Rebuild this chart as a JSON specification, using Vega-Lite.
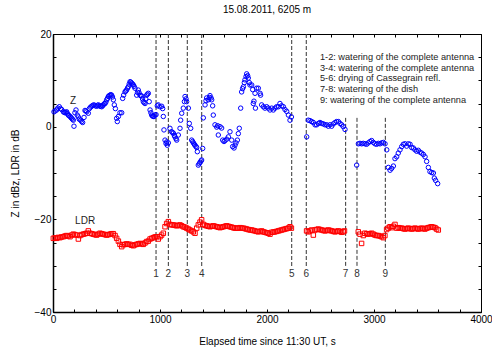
{
  "$schema": "https://vega.github.io/schema/vega-lite/v6.json",
  "width": 428,
  "height": 278,
  "autosize": "none",
  "padding": {"left": 53, "top": 34, "right": 11, "bottom": 40},
  "title": {"text": "15.08.2011, 6205 m", "fontSize": 10, "fontWeight": "normal", "offset": 14, "color": "black"},
  "config": {
    "font": "Liberation Sans",
    "view": {"stroke": "black", "strokeWidth": 1}
  },
  "datasets": {
    "z": [
      {"t":9,"v":3.2},{"t":20,"v":3.4},{"t":34,"v":3.6},{"t":45,"v":4.0},{"t":59,"v":4.3},{"t":70,"v":3.9},{"t":81,"v":3.7},{"t":97,"v":3.2},{"t":105,"v":3.1},{"t":112,"v":3.0},{"t":120,"v":3.1},{"t":128,"v":3.2},{"t":135,"v":2.8},{"t":143,"v":2.5},{"t":150,"v":2.4},{"t":159,"v":2.2},{"t":167,"v":2.0},{"t":174,"v":1.8},{"t":182,"v":1.6},{"t":190,"v":1.4},{"t":196,"v":0.1},{"t":205,"v":3.0},{"t":215,"v":3.6},{"t":227,"v":2.5},{"t":237,"v":2.1},{"t":246,"v":1.6},{"t":259,"v":1.4},{"t":268,"v":1.1},{"t":277,"v":0.9},{"t":290,"v":2.0},{"t":299,"v":3.5},{"t":307,"v":3.4},{"t":315,"v":3.2},{"t":330,"v":2.9},{"t":340,"v":3.9},{"t":350,"v":4.2},{"t":361,"v":4.4},{"t":372,"v":4.6},{"t":383,"v":4.7},{"t":395,"v":4.5},{"t":408,"v":4.4},{"t":416,"v":4.6},{"t":424,"v":4.7},{"t":439,"v":4.4},{"t":447,"v":4.5},{"t":455,"v":4.3},{"t":463,"v":4.5},{"t":470,"v":4.7},{"t":478,"v":4.9},{"t":486,"v":5.0},{"t":494,"v":5.3},{"t":502,"v":5.8},{"t":510,"v":6.1},{"t":517,"v":6.5},{"t":525,"v":6.7},{"t":533,"v":6.8},{"t":540,"v":6.9},{"t":548,"v":6.8},{"t":556,"v":6.4},{"t":564,"v":5.8},{"t":573,"v":4.7},{"t":583,"v":3.9},{"t":595,"v":1.8},{"t":601,"v":1.1},{"t":611,"v":2.2},{"t":626,"v":3.0},{"t":642,"v":3.0},{"t":651,"v":6.1},{"t":660,"v":6.8},{"t":673,"v":7.5},{"t":680,"v":7.7},{"t":688,"v":7.9},{"t":696,"v":8.3},{"t":704,"v":8.6},{"t":712,"v":9.2},{"t":720,"v":9.7},{"t":727,"v":9.6},{"t":735,"v":9.4},{"t":743,"v":9.2},{"t":751,"v":9.0},{"t":758,"v":8.7},{"t":766,"v":8.3},{"t":782,"v":6.8},{"t":790,"v":7.4},{"t":797,"v":7.9},{"t":805,"v":7.3},{"t":813,"v":6.8},{"t":821,"v":6.7},{"t":829,"v":6.6},{"t":837,"v":6.0},{"t":844,"v":5.4},{"t":852,"v":5.2},{"t":860,"v":5.0},{"t":867,"v":6.0},{"t":875,"v":6.8},{"t":883,"v":7.0},{"t":891,"v":7.2},{"t":899,"v":5.4},{"t":907,"v":3.6},{"t":915,"v":3.0},{"t":922,"v":2.5},{"t":930,"v":2.3},{"t":938,"v":2.2},{"t":945,"v":2.2},{"t":953,"v":2.5},{"t":963,"v":2.6},
      {"t":975,"v":4.5},{"t":984,"v":4.7},{"t":1000,"v":4.3},{"t":1016,"v":4.4},{"t":1025,"v":3.9},{"t":1031,"v":2.2},{"t":1037,"v":-0.7},{"t":1047,"v":-2.9},{"t":1056,"v":-3.6},{"t":1062,"v":-3.3},{"t":1068,"v":-4.0},{"t":1078,"v":-3.5},
      {"t":1093,"v":-0.35},{"t":1109,"v":-1.1},{"t":1118,"v":-1.3},{"t":1125,"v":-1.4},{"t":1134,"v":-1.9},{"t":1140,"v":-2.2},{"t":1149,"v":-2.6},{"t":1156,"v":-2.9},{"t":1171,"v":-1.8},{"t":1187,"v":-0.35},{"t":1193,"v":1.4},{"t":1203,"v":2.9},{"t":1218,"v":4.0},{"t":1228,"v":5.4},{"t":1234,"v":6.5},{"t":1243,"v":6.0},{"t":1249,"v":5.4},{"t":1265,"v":4.0},{"t":1274,"v":0.7},{"t":1287,"v":-0.35},{"t":1296,"v":-2.9},{"t":1305,"v":-3.2},{"t":1312,"v":-3.5},{"t":1321,"v":-3.8},{"t":1327,"v":-4.0},{"t":1336,"v":-4.3},{"t":1343,"v":-4.5},{"t":1349,"v":-5.4},{"t":1358,"v":-8.3},{"t":1367,"v":-8.0},{"t":1374,"v":-7.7},{"t":1383,"v":-7.4},{"t":1389,"v":-7.2},{"t":1399,"v":-4.7},
      {"t":1405,"v":1.9},{"t":1421,"v":4.7},{"t":1430,"v":5.6},{"t":1436,"v":6.2},{"t":1452,"v":5.8},{"t":1461,"v":6.3},{"t":1467,"v":6.7},{"t":1477,"v":6.2},{"t":1483,"v":5.8},{"t":1492,"v":4.5},{"t":1498,"v":2.5},{"t":1514,"v":0.4},{"t":1530,"v":-0.1},{"t":1539,"v":0.2},{"t":1545,"v":-1.8},{"t":1561,"v":0.0},{"t":1576,"v":-0.3},{"t":1586,"v":-2.9},{"t":1598,"v":-3.2},{"t":1607,"v":-3.0},{"t":1623,"v":-2.7},{"t":1639,"v":-2.2},{"t":1654,"v":-1.1},{"t":1670,"v":-2.9},{"t":1679,"v":-4.3},{"t":1692,"v":-4.6},{"t":1701,"v":-4.0},{"t":1710,"v":-3.5},{"t":1723,"v":-2.9},{"t":1732,"v":-1.5},{"t":1741,"v":-0.35},{"t":1754,"v":4.0},{"t":1763,"v":7.5},{"t":1772,"v":8.2},{"t":1779,"v":8.6},{"t":1788,"v":9.5},{"t":1794,"v":10.1},{"t":1804,"v":10.8},{"t":1810,"v":11.4},{"t":1819,"v":11.0},{"t":1825,"v":10.5},{"t":1835,"v":9.5},{"t":1841,"v":9.0},{"t":1857,"v":9.0},{"t":1866,"v":8.0},{"t":1872,"v":5.0},{"t":1878,"v":5.5},{"t":1888,"v":7.2},{"t":1892,"v":4.0},{"t":1903,"v":8.3},{"t":1919,"v":8.3},{"t":1935,"v":7.2},{"t":1940,"v":6.8},{"t":1950,"v":4.7},{"t":1966,"v":4.3},{"t":1981,"v":4.0},{"t":1997,"v":4.3},{"t":2012,"v":4.0},{"t":2028,"v":3.6},{"t":2044,"v":4.0},{"t":2059,"v":3.6},{"t":2075,"v":4.0},{"t":2090,"v":4.3},{"t":2106,"v":4.3},{"t":2121,"v":5.0},{"t":2137,"v":4.5},{"t":2153,"v":4.3},{"t":2168,"v":3.7},{"t":2184,"v":3.3},{"t":2200,"v":2.5},{"t":2215,"v":1.4},{"t":2228,"v":2.1},
      {"t":2371,"v":-2.2},{"t":2386,"v":1.4},{"t":2402,"v":1.3},{"t":2417,"v":1.1},{"t":2433,"v":0.9},{"t":2449,"v":0.4},{"t":2464,"v":0.4},{"t":2480,"v":0.7},{"t":2495,"v":0.9},{"t":2511,"v":0.7},{"t":2526,"v":0.6},{"t":2542,"v":0.4},{"t":2558,"v":0.4},{"t":2573,"v":0.1},{"t":2589,"v":0.4},{"t":2604,"v":0.1},{"t":2620,"v":0.6},{"t":2636,"v":0.9},{"t":2651,"v":1.1},{"t":2667,"v":1.1},{"t":2682,"v":0.7},{"t":2698,"v":0.4},{"t":2713,"v":0.0},{"t":2729,"v":-0.6},
      {"t":2838,"v":-8.3},{"t":2854,"v":-3.7},{"t":2869,"v":-3.6},{"t":2885,"v":-3.7},{"t":2900,"v":-3.6},{"t":2916,"v":-3.7},{"t":2931,"v":-3.8},{"t":2947,"v":-3.5},{"t":2963,"v":-3.2},{"t":2978,"v":-3.0},{"t":2994,"v":-3.4},{"t":3009,"v":-3.7},{"t":3025,"v":-3.8},{"t":3041,"v":-3.6},{"t":3056,"v":-3.7},{"t":3072,"v":-3.5},{"t":3087,"v":-3.4},{"t":3103,"v":-3.7},{"t":3119,"v":-5.0},{"t":3134,"v":-8.8},{"t":3150,"v":-9.4},{"t":3165,"v":-9.0},{"t":3181,"v":-8.5},{"t":3196,"v":-6.9},{"t":3212,"v":-6.5},{"t":3227,"v":-5.7},{"t":3243,"v":-5.0},{"t":3259,"v":-4.3},{"t":3274,"v":-3.8},{"t":3290,"v":-3.7},{"t":3305,"v":-4.2},{"t":3321,"v":-3.7},{"t":3337,"v":-3.8},{"t":3352,"v":-4.5},{"t":3368,"v":-4.6},{"t":3383,"v":-5.0},{"t":3399,"v":-5.3},{"t":3414,"v":-5.1},{"t":3430,"v":-5.5},{"t":3445,"v":-5.7},{"t":3461,"v":-6.0},{"t":3477,"v":-6.5},{"t":3492,"v":-7.5},{"t":3508,"v":-8.8},{"t":3523,"v":-9.7},{"t":3539,"v":-9.9},{"t":3555,"v":-10.0},{"t":3564,"v":-11.1},{"t":3576,"v":-11.6},{"t":3595,"v":-12.3}
    ],
    "ldr": [
      {"t":3,"v":-24.1},{"t":20,"v":-24.0},{"t":34,"v":-24.1},{"t":50,"v":-23.9},{"t":65,"v":-23.96},{"t":80,"v":-23.8},{"t":97,"v":-23.75},{"t":112,"v":-23.6},{"t":128,"v":-23.5},{"t":143,"v":-23.6},{"t":159,"v":-23.75},{"t":175,"v":-23.4},{"t":190,"v":-23.2},{"t":205,"v":-23.3},{"t":221,"v":-23.4},{"t":237,"v":-24.25},{"t":252,"v":-23.5},{"t":268,"v":-23.3},{"t":284,"v":-23.2},{"t":300,"v":-23.1},{"t":315,"v":-23.0},{"t":330,"v":-22.5},{"t":346,"v":-23.0},{"t":362,"v":-23.1},{"t":377,"v":-23.2},{"t":392,"v":-23.3},{"t":408,"v":-23.4},{"t":424,"v":-23.2},{"t":439,"v":-23.0},{"t":455,"v":-23.1},{"t":470,"v":-23.2},{"t":486,"v":-23.3},{"t":502,"v":-23.4},{"t":517,"v":-23.3},{"t":533,"v":-23.2},{"t":548,"v":-23.1},{"t":564,"v":-23.1},{"t":580,"v":-23.5},{"t":595,"v":-24.1},{"t":611,"v":-24.7},{"t":626,"v":-25.4},{"t":642,"v":-25.9},{"t":657,"v":-25.5},{"t":672,"v":-25.4},{"t":688,"v":-25.3},{"t":704,"v":-25.4},{"t":720,"v":-25.4},{"t":735,"v":-25.6},{"t":751,"v":-25.7},{"t":766,"v":-25.5},{"t":782,"v":-25.4},{"t":797,"v":-25.3},{"t":813,"v":-25.2},{"t":829,"v":-25.3},{"t":844,"v":-25.4},{"t":860,"v":-25.1},{"t":875,"v":-24.8},{"t":891,"v":-24.7},{"t":907,"v":-24.25},{"t":922,"v":-24.1},{"t":938,"v":-23.96},{"t":953,"v":-23.8},{"t":969,"v":-23.75},{"t":984,"v":-24.25},{"t":1000,"v":-23.75},{"t":1015,"v":-23.4},{"t":1031,"v":-23.0},{"t":1047,"v":-21.6},{"t":1062,"v":-20.9},{"t":1078,"v":-20.5},{"t":1093,"v":-21.1},{"t":1109,"v":-21.2},{"t":1125,"v":-21.2},{"t":1140,"v":-21.3},{"t":1156,"v":-21.4},{"t":1172,"v":-21.3},{"t":1187,"v":-21.2},{"t":1203,"v":-21.4},{"t":1218,"v":-21.6},{"t":1234,"v":-21.7},{"t":1249,"v":-21.9},{"t":1265,"v":-22.1},{"t":1280,"v":-22.3},{"t":1296,"v":-22.5},{"t":1311,"v":-22.7},{"t":1327,"v":-23.0},{"t":1343,"v":-21.9},{"t":1358,"v":-21.2},{"t":1374,"v":-20.6},{"t":1389,"v":-20.1},{"t":1405,"v":-21.1},{"t":1420,"v":-21.3},{"t":1436,"v":-21.4},{"t":1451,"v":-21.5},{"t":1467,"v":-21.6},{"t":1483,"v":-21.5},{"t":1498,"v":-21.4},{"t":1514,"v":-21.5},{"t":1530,"v":-21.6},{"t":1545,"v":-21.7},{"t":1561,"v":-21.8},{"t":1576,"v":-21.7},{"t":1592,"v":-21.6},{"t":1608,"v":-21.5},{"t":1623,"v":-21.4},{"t":1639,"v":-21.5},{"t":1654,"v":-21.6},{"t":1670,"v":-21.7},{"t":1685,"v":-21.8},{"t":1700,"v":-21.9},{"t":1716,"v":-21.9},{"t":1732,"v":-21.9},{"t":1748,"v":-21.8},{"t":1763,"v":-21.9},{"t":1779,"v":-21.9},{"t":1795,"v":-22.0},{"t":1810,"v":-22.1},{"t":1825,"v":-22.2},{"t":1841,"v":-22.3},
      {"t":1856,"v":-22.3},{"t":1871,"v":-22.4},{"t":1887,"v":-22.5},{"t":1903,"v":-22.6},{"t":1919,"v":-22.7},{"t":1935,"v":-22.6},{"t":1950,"v":-22.5},{"t":1966,"v":-22.7},{"t":1981,"v":-22.8},{"t":1997,"v":-22.9},{"t":2012,"v":-23.0},{"t":2028,"v":-23.2},{"t":2043,"v":-22.8},{"t":2059,"v":-22.75},{"t":2074,"v":-22.7},{"t":2090,"v":-22.6},{"t":2106,"v":-22.5},{"t":2121,"v":-22.4},{"t":2137,"v":-22.3},{"t":2152,"v":-22.2},{"t":2168,"v":-22.1},{"t":2184,"v":-22.0},{"t":2199,"v":-21.9},{"t":2215,"v":-21.6},{"t":2228,"v":-21.9},
      {"t":2370,"v":-22.5},{"t":2386,"v":-22.7},{"t":2401,"v":-22.5},{"t":2417,"v":-22.3},{"t":2433,"v":-23.4},{"t":2448,"v":-22.3},{"t":2464,"v":-22.2},{"t":2479,"v":-22.1},{"t":2495,"v":-22.2},{"t":2510,"v":-22.3},{"t":2526,"v":-22.4},{"t":2542,"v":-22.5},{"t":2557,"v":-22.4},{"t":2573,"v":-22.3},{"t":2589,"v":-22.4},{"t":2604,"v":-22.5},{"t":2620,"v":-22.6},{"t":2635,"v":-22.7},{"t":2651,"v":-22.6},{"t":2666,"v":-22.5},{"t":2682,"v":-22.6},{"t":2697,"v":-22.8},{"t":2713,"v":-22.7},{"t":2724,"v":-22.5},
      {"t":2853,"v":-22.7},{"t":2869,"v":-23.2},{"t":2884,"v":-25.2},{"t":2900,"v":-23.5},{"t":2915,"v":-23.0},{"t":2931,"v":-23.1},{"t":2947,"v":-23.2},{"t":2962,"v":-23.1},{"t":2978,"v":-23.0},{"t":2994,"v":-23.2},{"t":3009,"v":-23.4},{"t":3025,"v":-23.5},{"t":3040,"v":-23.5},{"t":3056,"v":-23.6},{"t":3071,"v":-23.75},{"t":3087,"v":-23.96},{"t":3102,"v":-23.5},
      {"t":3118,"v":-22.2},{"t":3133,"v":-21.9},{"t":3149,"v":-21.6},{"t":3165,"v":-21.8},{"t":3180,"v":-21.5},{"t":3196,"v":-21.1},{"t":3211,"v":-21.9},{"t":3227,"v":-21.8},{"t":3243,"v":-21.9},{"t":3258,"v":-21.9},{"t":3274,"v":-22.0},{"t":3289,"v":-22.1},{"t":3305,"v":-22.0},{"t":3320,"v":-21.9},{"t":3336,"v":-22.0},{"t":3352,"v":-22.1},{"t":3367,"v":-22.0},{"t":3383,"v":-21.9},{"t":3398,"v":-22.0},{"t":3414,"v":-22.1},{"t":3430,"v":-22.0},{"t":3445,"v":-21.9},{"t":3461,"v":-22.0},{"t":3476,"v":-22.1},{"t":3492,"v":-21.9},{"t":3507,"v":-21.8},{"t":3523,"v":-21.7},{"t":3538,"v":-21.6},{"t":3554,"v":-21.7},{"t":3570,"v":-21.8},{"t":3585,"v":-22.1},{"t":3601,"v":-22.3}
    ],
    "lines": [
      {"t":963,"top":20,"bot":-30.3,"lab":"1"},
      {"t":1078,"top":20,"bot":-30.3,"lab":"2"},
      {"t":1255,"top":20,"bot":-30.3,"lab":"3"},
      {"t":1390,"top":20,"bot":-30.3,"lab":"4"},
      {"t":2231,"top":20,"bot":-30.3,"lab":"5"},
      {"t":2367,"top":20,"bot":-30.3,"lab":"6"},
      {"t":2735,"top":1.9,"bot":-30.3,"lab":"7"},
      {"t":2841,"top":1.9,"bot":-30.3,"lab":"8"},
      {"t":3106,"top":1.9,"bot":-30.3,"lab":"9"}
    ],
    "notes": [
      {"t":2495,"v":15.1,"txt":"1-2: watering of the complete antenna"},
      {"t":2495,"v":12.7,"txt":"3-4: watering of the complete antenna"},
      {"t":2495,"v":10.4,"txt":"5-6: drying of Cassegrain refl."},
      {"t":2495,"v":8.1,"txt":"7-8: watering  of the dish"},
      {"t":2495,"v":5.8,"txt":"9: watering of the complete antenna"}
    ],
    "series": [
      {"t":187,"v":5.6,"txt":"Z"},
      {"t":300,"v":-20.3,"txt":"LDR"}
    ]
  },
  "resolve": {"axis": {"x": "independent", "y": "independent"}},
  "layer": [
    {
      "data": {"name": "lines"},
      "mark": {"type": "rule", "color": "#333333", "strokeWidth": 1, "strokeDash": [4, 2]},
      "encoding": {
        "x": {"field": "t", "type": "quantitative", "scale": {"domain": [0, 4000], "nice": false},
              "axis": {"orient": "top", "title": null, "labels": false, "values": [0,200,400,600,800,1000,1200,1400,1600,1800,2000,2200,2400,2600,2800,3000,3200,3400,3600,3800,4000], "tickSize": -3, "tickColor": "black", "domain": false, "grid": false}},
        "y": {"field": "top", "type": "quantitative", "scale": {"domain": [-40, 20], "nice": false},
              "axis": {"orient": "right", "title": null, "labels": false, "values": [-40,-35,-30,-25,-20,-15,-10,-5,0,5,10,15,20], "tickSize": -3, "tickColor": "black", "domain": false, "grid": false}},
        "y2": {"field": "bot"}
      }
    },
    {
      "data": {"name": "z"},
      "mark": {"type": "point", "shape": "circle", "filled": false, "color": "#0000FF", "size": 20, "strokeWidth": 1, "opacity": 1},
      "encoding": {
        "x": {"field": "t", "type": "quantitative",
              "axis": {"orient": "bottom", "title": "Elapsed time since 11:30 UT, s", "format": "d",
                       "values": [0,200,400,600,800,1000,1200,1400,1600,1800,2000,2200,2400,2600,2800,3000,3200,3400,3600,3800,4000],
                       "labelExpr": "datum.value % 1000 === 0 ? datum.label : ''",
                       "tickSize": -3, "tickColor": "black", "domainColor": "black", "domainWidth": 1.5, "grid": false,
                       "labelFontSize": 10, "labelColor": "black", "labelPadding": 5, "labelFlush": false, "labelOverlap": false,
                       "titleFontSize": 10, "titleFontWeight": "normal", "titleColor": "black", "titlePadding": 12}},
        "y": {"field": "v", "type": "quantitative",
              "axis": {"orient": "left", "title": "Z in dBz, LDR in dB",
                       "values": [-40,-35,-30,-25,-20,-15,-10,-5,0,5,10,15,20],
                       "labelExpr": "datum.value % 20 === 0 ? datum.label : ''",
                       "tickSize": -3, "tickColor": "black", "domainColor": "black", "domainWidth": 1.5, "grid": false,
                       "labelFontSize": 10, "labelColor": "black", "labelPadding": 5, "labelFlush": false, "labelOverlap": false,
                       "titleFontSize": 10, "titleFontWeight": "normal", "titleColor": "black", "titlePadding": 14}}
      }
    },
    {
      "data": {"name": "ldr"},
      "mark": {"type": "point", "shape": "square", "filled": false, "color": "#FF0000", "size": 20, "strokeWidth": 1, "opacity": 1},
      "encoding": {
        "x": {"field": "t", "type": "quantitative", "axis": null},
        "y": {"field": "v", "type": "quantitative", "axis": null}
      }
    },
    {
      "data": {"name": "lines"},
      "mark": {"type": "text", "fontSize": 10, "color": "#333333", "align": "center", "baseline": "middle"},
      "encoding": {
        "x": {"field": "t", "type": "quantitative", "axis": null},
        "y": {"datum": -31.8, "type": "quantitative", "axis": null},
        "text": {"field": "lab"}
      }
    },
    {
      "data": {"name": "notes"},
      "mark": {"type": "text", "fontSize": 9.2, "color": "#222222", "align": "left", "baseline": "middle"},
      "encoding": {
        "x": {"field": "t", "type": "quantitative", "axis": null},
        "y": {"field": "v", "type": "quantitative", "axis": null},
        "text": {"field": "txt"}
      }
    },
    {
      "data": {"name": "series"},
      "mark": {"type": "text", "fontSize": 10, "color": "#222222", "align": "center", "baseline": "middle"},
      "encoding": {
        "x": {"field": "t", "type": "quantitative", "axis": null},
        "y": {"field": "v", "type": "quantitative", "axis": null},
        "text": {"field": "txt"}
      }
    }
  ]
}
